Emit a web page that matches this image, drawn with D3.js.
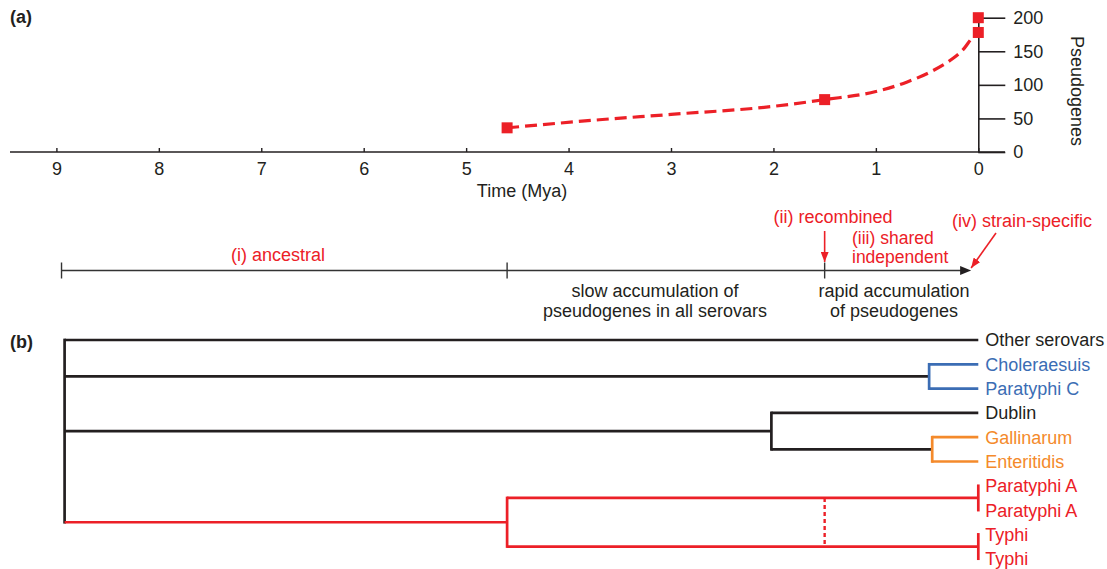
<!doctype html>
<html>
<head>
    <style>
        body {
            margin: 0;
            background: #fff;
            font-family: "Liberation Sans", Arial, Helvetica, sans-serif;
        }
        svg text {
            font-size: 18px;
            fill: #231f20;
        }
        .red { fill: #ec2027 !important; }
        .bold { font-weight: bold; }
        .tight { font-size: 17.5px !important; }
    </style>
    <script src="https://d3js.org/d3.v7.min.js"></script>
</head>
<body>
<div id="my_chart"></div>

<script>
    // (a) pseudogenes through time
    var timeTicks = [9, 8, 7, 6, 5, 4, 3, 2, 1, 0];
    var countTicks = [0, 50, 100, 150, 200];
    var pointTime = [4.6, 1.5, 0, 0];
    var pointCount = [36, 78, 178, 200];
    var curveTime = [4.6, 3.7, 3.0, 2.0, 1.5, 1.0, 0.7, 0.47, 0.27, 0.14, 0.06, 0];
    var curveCount = [36, 48, 56, 68, 78, 90, 104, 119, 137, 154, 170, 178];

    // timeline of phases
    var phaseTime = [8.95, 4.6, 1.5];
    var timelineEnd = 0.07;

    // (b) tree
    var nodeId     = ["root", "oth", "chp", "cho", "parC", "dubEn", "dub", "ge", "gal", "ent", "red", "pA", "pA1", "pA2", "ty", "ty1", "ty2"];
    var nodeParent = ["", "root", "root", "chp", "chp", "root", "dubEn", "dubEn", "ge", "ge", "root", "red", "pA", "pA", "red", "ty", "ty"];
    var nodeTime   = [8.92, 0, 0.48, 0, 0, 2.02, 0, 0.45, 0, 0, 4.6, 0, 0, 0, 0, 0, 0];
    var nodeGroup  = ["other", "other", "other", "blue", "blue", "other", "other", "other", "orange", "orange", "red", "red", "red", "red", "red", "red", "red"];
    var leafIds    = ["oth", "cho", "parC", "dub", "gal", "ent", "pA1", "pA2", "ty1", "ty2"];
    var leafLabels = ["Other serovars", "Choleraesuis", "Paratyphi C", "Dublin", "Gallinarum", "Enteritidis", "Paratyphi A", "Paratyphi A", "Typhi", "Typhi"];
    var recombTime = 1.5;

    var RED = "#ec2027";
    var color = d3.scaleOrdinal()
        .domain(["other", "blue", "orange", "red"])
        .range(["#231f20", "#3b6db4", "#f48a2b", RED]);

    var svg = d3.select("#my_chart")
        .append("svg")
        .attr("width", 1107)
        .attr("height", 569);

    var defs = svg.append("defs");
    defs.append("marker")
        .attr("id", "redHead")
        .attr("markerUnits", "userSpaceOnUse")
        .attr("viewBox", "0 0 10 8")
        .attr("refX", 10).attr("refY", 4)
        .attr("markerWidth", 10).attr("markerHeight", 8)
        .attr("orient", "auto")
        .append("path")
        .attr("d", "M0,0L10,4L0,8Z")
        .attr("fill", RED);

    // shared time scale for all panels
    var x = d3.scaleLinear().domain([9, 0]).range([56.4, 978.3]);
    var y = d3.scaleLinear().domain([0, 200]).range([152, 17.7]);

    // ---------- panel (a)
    svg.append("text").attr("class", "bold").attr("x", 10).attr("y", 23).text("(a)");

    svg.append("line")
        .attr("x1", 10).attr("x2", 1005)
        .attr("y1", y(0)).attr("y2", y(0))
        .attr("stroke", "#231f20").attr("stroke-width", 1.6);

    var xAxis = svg.append("g")
        .attr("transform", "translate(0," + y(0) + ")")
        .call(d3.axisBottom(x).tickValues(timeTicks).tickFormat(d3.format("d"))
            .tickSize(-4).tickPadding(10));
    xAxis.select(".domain").remove();
    xAxis.selectAll("line").attr("stroke", "#231f20").attr("stroke-width", 1.4);
    xAxis.attr("font-family", null).attr("font-size", null);

    var yAxis = svg.append("g")
        .attr("transform", "translate(" + x(0) + ",0)")
        .call(d3.axisRight(y).tickValues(countTicks).tickSize(27).tickSizeOuter(0).tickPadding(8));
    yAxis.attr("font-family", null).attr("font-size", null);
    yAxis.select(".domain").attr("stroke", "#231f20").attr("stroke-width", 1.6);
    yAxis.selectAll("line").attr("stroke", "#231f20").attr("stroke-width", 1.6);

    svg.append("text")
        .attr("transform", "translate(1077," + 91 + ") rotate(90)")
        .attr("text-anchor", "middle").attr("dy", "0.35em")
        .text("Pseudogenes");

    svg.append("text")
        .attr("x", 522).attr("y", 197)
        .attr("text-anchor", "middle")
        .text("Time (Mya)");

    var curveData = curveTime.map(function (t, i) { return {t: t, c: curveCount[i]}; });
    svg.append("path")
        .datum(curveData)
        .attr("fill", "none")
        .attr("stroke", RED)
        .attr("stroke-width", 3.2)
        .attr("stroke-dasharray", "12,6")
        .attr("d", d3.line()
            .x(function (d) { return x(d.t); })
            .y(function (d) { return y(d.c); })
            .curve(d3.curveMonotoneX));

    svg.append("g")
        .selectAll("rect")
        .data(pointTime.map(function (t, i) { return {t: t, c: pointCount[i]}; }))
        .enter()
        .append("rect")
        .attr("x", function (d) { return x(d.t) - 5.5; })
        .attr("y", function (d) { return y(d.c) - 5.5; })
        .attr("width", 11).attr("height", 11)
        .attr("fill", RED);

    // ---------- timeline
    var tlY = 270.5;
    svg.append("line")
        .attr("x1", x(phaseTime[0])).attr("x2", x(timelineEnd) - 8)
        .attr("y1", tlY).attr("y2", tlY)
        .attr("stroke", "#333").attr("stroke-width", 1.6);
    svg.append("path")
        .attr("d", "M" + x(timelineEnd) + "," + tlY + "l-11,-4.5v9Z")
        .attr("fill", "#231f20");
    svg.append("g")
        .selectAll("line")
        .data(phaseTime)
        .enter()
        .append("line")
        .attr("x1", function (d) { return x(d); }).attr("x2", function (d) { return x(d); })
        .attr("y1", tlY - 8).attr("y2", tlY + 8)
        .attr("stroke", "#333").attr("stroke-width", 1.4);

    svg.append("line")
        .attr("x1", x(recombTime)).attr("x2", x(recombTime))
        .attr("y1", 231).attr("y2", 262)
        .attr("stroke", RED).attr("stroke-width", 1.6)
        .attr("marker-end", "url(#redHead)");
    svg.append("line")
        .attr("x1", 996).attr("y1", 233)
        .attr("x2", x(timelineEnd)).attr("y2", 268)
        .attr("stroke", RED).attr("stroke-width", 1.6)
        .attr("marker-end", "url(#redHead)");

    function label(tx, ty, anchor, txt, cls) {
        svg.append("text")
            .attr("x", tx).attr("y", ty)
            .attr("text-anchor", anchor)
            .attr("class", cls || null)
            .text(txt);
    }
    label(278, 261, "middle", "(i) ancestral", "red");
    label(833, 223, "middle", "(ii) recombined", "red");
    label(852, 243.5, "start", "(iii) shared", "red tight");
    label(852, 263, "start", "independent", "red tight");
    label(1022, 227, "middle", "(iv) strain-specific", "red");
    label(655, 296.5, "middle", "slow accumulation of");
    label(655, 316.5, "middle", "pseudogenes in all serovars");
    label(894, 296.5, "middle", "rapid accumulation");
    label(894, 316.5, "middle", "of pseudogenes");

    // ---------- panel (b)
    svg.append("text").attr("class", "bold").attr("x", 10).attr("y", 348).text("(b)");

    var table = nodeId.map(function (id, i) {
        return {id: id, parent: nodeParent[i], time: nodeTime[i], group: nodeGroup[i]};
    });
    var root = d3.stratify()
        .id(function (d) { return d.id; })
        .parentId(function (d) { return d.parent || null; })(table);

    var leafY = d3.scalePoint().domain(leafIds).range([340, 558.7]);
    root.eachAfter(function (n) {
        if (n.children) n.y = d3.mean(n.children, function (c) { return c.y; });
        else n.y = leafY(n.id);
    });

    var tree = svg.append("g")
        .attr("fill", "none")
        .attr("stroke-width", 2.7)
        .attr("stroke-linecap", "square");

    root.descendants().forEach(function (n) {
        if (n.parent && n.parent.data.time !== n.data.time) {
            tree.append("line")
                .attr("x1", x(n.parent.data.time)).attr("x2", x(n.data.time))
                .attr("y1", n.y).attr("y2", n.y)
                .attr("stroke", color(n.data.group))
                .attr("stroke-linecap", "butt");
        }
        if (n.children) {
            var first = n.children[0], last = n.children[n.children.length - 1];
            tree.append("line")
                .attr("x1", x(n.data.time)).attr("x2", x(n.data.time))
                .attr("y1", first.y).attr("y2", last.y)
                .attr("stroke", color(first.data.group));
        }
    });

    var redNode = root.find(function (n) { return n.id === "red"; });
    tree.append("line")
        .attr("x1", x(recombTime)).attr("x2", x(recombTime))
        .attr("y1", redNode.children[0].y).attr("y2", redNode.children[1].y)
        .attr("stroke", RED)
        .attr("stroke-width", 2.4)
        .attr("stroke-linecap", "butt")
        .attr("stroke-dasharray", "4,3");

    svg.append("g")
        .selectAll("text")
        .data(leafIds)
        .enter()
        .append("text")
        .attr("x", x(0) + 7)
        .attr("y", function (d) { return leafY(d); })
        .attr("dy", "0.36em")
        .style("fill", function (d) { return color(nodeGroup[nodeId.indexOf(d)]); })
        .text(function (d, i) { return leafLabels[i]; });
</script>
</body>
</html>
